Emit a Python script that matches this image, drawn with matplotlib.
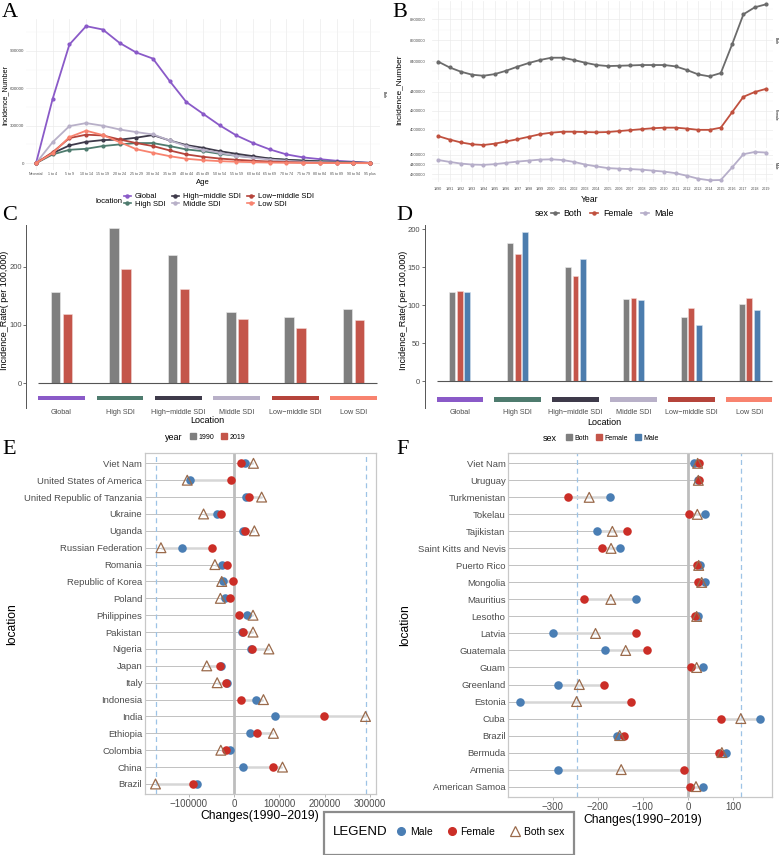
import numpy as np
import matplotlib
matplotlib.use("Agg")
import matplotlib.pyplot as plt
from matplotlib.lines import Line2D
from matplotlib.patches import Patch, Rectangle

plt.rcParams['font.family'] = ['Liberation Sans', 'DejaVu Sans']

W, H = 780, 855


def box(l, t, r, b):
    # pixel box -> figure fraction
    return [l / W, 1 - b / H, (r - l) / W, (b - t) / H]


def fx(x):
    return x / W


def fy(y):
    return 1 - y / H


# ---------------- data ----------------
locations = ["Global", "High SDI", "High-middle SDI", "Middle SDI", "Low-middle SDI", "Low SDI"]
loc_labels = ["Global", "High SDI", "High\u2212middle SDI", "Middle SDI", "Low\u2212middle SDI", "Low SDI"]
loc_colors = ["#8A5AC8", "#4E7B6E", "#3E3A4A", "#B8B0C8", "#B5443B", "#F8836F"]

ages = ["Neonatal", "1 to 4", "5 to 9", "10 to 14", "15 to 19", "20 to 24", "25 to 29",
        "30 to 34", "35 to 39", "40 to 44", "45 to 49", "50 to 54", "55 to 59", "60 to 64",
        "65 to 69", "70 to 74", "75 to 79", "80 to 84", "85 to 89", "90 to 94", "95 plus"]
# incidence number by age, thousands
global_age = [0, 517, 951, 1098, 1071, 964, 887, 838, 659, 490, 396, 303, 222, 161, 110, 70, 46, 32, 19, 11, 3]
high_age = [0, 70, 107, 115, 137, 150, 161, 161, 137, 110, 96, 75, 59, 46, 37, 27, 21, 16, 11, 5, 2]
highmid_age = [0, 80, 142, 171, 185, 188, 204, 225, 182, 145, 123, 96, 75, 56, 37, 27, 19, 13, 8, 5, 2]
middle_age = [0, 169, 297, 321, 300, 270, 249, 230, 182, 137, 107, 83, 59, 43, 29, 19, 11, 8, 5, 3, 1]
lowmid_age = [0, 88, 201, 228, 222, 190, 161, 137, 102, 70, 51, 37, 27, 19, 13, 8, 5, 3, 2, 1, 0]
low_age = [0, 80, 209, 260, 225, 169, 112, 83, 56, 35, 24, 16, 11, 8, 5, 3, 2, 1, 1, 0, 0]

years = list(range(1990, 2020))
# incidence number by year, thousands
both_year = [8394, 8339, 8298, 8269, 8259, 8275, 8307, 8346, 8381, 8410, 8432, 8432, 8410, 8384,
             8362, 8352, 8355, 8358, 8362, 8362, 8362, 8349, 8314, 8272, 8253, 8285, 8560, 8848,
             8915, 8944]
female_year = [3934, 3898, 3868, 3848, 3841, 3855, 3878, 3901, 3927, 3954, 3970, 3980, 3980, 3977,
               3974, 3977, 3987, 3997, 4007, 4017, 4023, 4023, 4013, 4000, 4000, 4023, 4185, 4347,
               4397, 4430]
male_year = [4444, 4425, 4408, 4398, 4395, 4402, 4415, 4428, 4438, 4448, 4451, 4444, 4425, 4398,
             4379, 4362, 4356, 4352, 4346, 4336, 4326, 4310, 4284, 4254, 4238, 4241, 4369, 4503,
             4526, 4520]
sexes = ["Both", "Female", "Male"]
sex_line_colors = ["#6B6B6B", "#C0503E", "#B6AEC9"]
facet_ticks = [[8400000, 8600000, 8800000], [4000000, 4200000, 4400000], [4300000, 4400000, 4500000]]

rate_1990 = [157, 266, 220, 123, 114, 128]
rate_2019 = [118, 197, 161, 110, 95, 109]
rate_both = [117, 182, 150, 108, 85, 101]
rate_female = [119, 168, 139, 110, 96, 109]
rate_male = [117, 197, 161, 107, 74, 94]

countries_e = ["Viet Nam", "United States of America", "United Republic of Tanzania", "Ukraine",
               "Uganda", "Russian Federation", "Romania", "Republic of Korea", "Poland",
               "Philippines", "Pakistan", "Nigeria", "Japan", "Italy", "Indonesia", "India",
               "Ethiopia", "Colombia", "China", "Brazil"]
male_e = [24.8, -97.5, 26, -37, 20, -114, -26, -23.5, -20, 28.5, 17.5, 37, -28, -15, 49, 91, 36, -9.6, 19, -81]
female_e = [15.3, -6, 34, -29, 25, -48, -15, -2, -8, 12, 21, 39, -31.5, -18, 15, 199, 50.5, -17.6, 87, -90]
both_e = [43, -103, 61, -67, 45, -161, -42, -27, -30, 42, 42, 77, -60, -37, 65, 290, 87, -29, 107, -173]

countries_f = ["Viet Nam", "Uruguay", "Turkmenistan", "Tokelau", "Tajikistan",
               "Saint Kitts and Nevis", "Puerto Rico", "Mongolia", "Mauritius", "Lesotho",
               "Latvia", "Guatemala", "Guam", "Greenland", "Estonia", "Cuba", "Brazil",
               "Bermuda", "Armenia", "American Samoa"]
male_f = [12.9, 21.7, -172, 38, -200.7, -151, 27.6, 38, -114.6, 23, -299.5, -185, 33.5, -287.6,
          -372, 159.5, -156.5, 84.3, -289, 34.3]
female_f = [25.4, 24, -267, 1.8, -134.4, -191, 19.5, 23, -230, 15, -115, -91.7, 7.7, -186,
            -127, 73.3, -141.8, 68, -9.2, 4.8]
both_f = [21.7, 23.2, -219, 21, -167.6, -170.5, 24, 30.6, -171, 19.5, -205, -138, 19.5, -241,
          -247, 117.5, -151.4, 75.5, -148, 18]

GREY_TXT = "#4D4D4D"
BAR_GREY = "#7F7F7F"
BAR_RED = "#C4554A"
BAR_BLUE = "#4C7DAE"
PT_BLUE = "#4A7EB4"
PT_RED = "#CB2E27"
TRI = "#9A6A4B"

fig = plt.figure(figsize=(W / 100, H / 100), dpi=100)

letter_kw = dict(family=["Liberation Serif", "DejaVu Serif"], fontsize=16, va="top", ha="left")
fig.text(fx(2), fy(3), "A", **letter_kw)
fig.text(fx(392), fy(3), "B", **letter_kw)
fig.text(fx(2), fy(206), "C", **letter_kw)
fig.text(fx(396), fy(206), "D", **letter_kw)
fig.text(fx(2), fy(440), "E", **letter_kw)
fig.text(fx(396), fy(440), "F", **letter_kw)

# ---------------- A ----------------
axA = fig.add_axes(box(26, 19.3, 380, 170))
age_series = [global_age, high_age, highmid_age, middle_age, lowmid_age, low_age]
xa = np.arange(len(ages))
draw_order = [1, 4, 5, 3, 2, 0]
for i in draw_order:
    axA.plot(xa, np.array(age_series[i]) * 1000, color=loc_colors[i], lw=1.3,
             marker="o", ms=2, zorder=3 + i)
axA.set_xlim(-0.6, len(ages) - 0.4)
axA.margins(y=0.05)
axA.set_xticks(xa)
axA.set_xticklabels(ages, fontsize=2.6, color=GREY_TXT)
axA.set_yticks([0, 300000, 600000, 900000])
axA.set_yticklabels(["0", "300000", "600000", "900000"], fontsize=3.2, color=GREY_TXT)
axA.set_yticks([150000, 450000, 750000, 1050000], minor=True)
axA.tick_params(length=0, pad=1.5, which="both")
axA.grid(True, color="#EBEBEB", lw=0.5)
axA.grid(True, which="minor", axis="y", color="#F3F3F3", lw=0.35)
for s in axA.spines.values():
    s.set_visible(False)
axA.set_axisbelow(True)
fig.text(fx(5), fy(95), "Incidence_Number", rotation=90, fontsize=5.1, ha="center", va="center")
fig.text(fx(203), fy(183), "Age", fontsize=5.5, ha="center", va="center")
fig.text(fx(384), fy(95), "Both", rotation=-90, fontsize=2.5, ha="center", va="center")
handlesA = [Line2D([], [], color=c, lw=1.2, marker="o", ms=2.2) for c in loc_colors]
fig.text(fx(109), fy(201), "location", fontsize=5.6, ha="center", va="center")
fig.legend(handlesA, loc_labels, ncol=3, loc="center", bbox_to_anchor=(fx(219), fy(200.5)),
           frameon=False, fontsize=5.5, handlelength=0.9, handletextpad=0.5,
           columnspacing=0.9, labelspacing=0.05, borderpad=0)

# ---------------- B ----------------
facet_boxes = [(0.7, 80), (82.2, 147.8), (149.6, 181.7)]
year_series = [both_year, female_year, male_year]
xb = np.arange(len(years))
for k in range(3):
    t, b = facet_boxes[k]
    ax = fig.add_axes(box(431.5, t, 772.8, b))
    ax.plot(xb, np.array(year_series[k]) * 1000, color=sex_line_colors[k], lw=1.3,
            marker="o", ms=2)
    ax.set_xlim(-0.6, len(years) - 0.4)
    ax.margins(y=0.05)
    ticks = facet_ticks[k]
    ax.set_yticks(ticks)
    ax.set_yticklabels([str(v) for v in ticks], fontsize=3, color=GREY_TXT)
    step = ticks[1] - ticks[0]
    ax.set_yticks([ticks[0] - step / 2] + [v + step / 2 for v in ticks], minor=True)
    ax.set_xticks(xb)
    if k == 2:
        ax.set_xticklabels([str(y) for y in years], fontsize=2.7, color=GREY_TXT)
    else:
        ax.set_xticklabels([])
    ax.tick_params(length=0, pad=4, which="both")
    ax.tick_params(axis="x", pad=4)
    ax.grid(True, color="#EBEBEB", lw=0.5)
    ax.grid(True, which="minor", axis="y", color="#F3F3F3", lw=0.35)
    ax.set_axisbelow(True)
    for s in ax.spines.values():
        s.set_visible(False)
    fig.text(fx(776), fy((t + b) / 2), sexes[k], rotation=-90, fontsize=2.5,
             ha="center", va="center")
fig.text(fx(399), fy(90), "Incidence_Number", rotation=90, fontsize=6, ha="center", va="center")
fig.text(fx(590), fy(199), "Year", fontsize=6.2, ha="center", va="center")
handlesB = [Line2D([], [], color=c, lw=1.2, marker="o", ms=2.2) for c in sex_line_colors]
fig.text(fx(542), fy(214), "sex", fontsize=6.4, ha="center", va="center")
fig.legend(handlesB, sexes, ncol=3, loc="center", bbox_to_anchor=(fx(612), fy(214)),
           frameon=False, fontsize=6.4, handlelength=0.9, handletextpad=0.5,
           columnspacing=1.0, borderpad=0)


# ---------------- C and D ----------------
def style_bar_axes(ax, yticks):
    ax.set_xticks(np.arange(len(locations)))
    ax.set_xticklabels(loc_labels, fontsize=5.2, color=GREY_TXT)
    ax.set_yticks(yticks)
    ax.set_yticklabels([str(v) for v in yticks], fontsize=5.5, color=GREY_TXT)
    ax.tick_params(axis="x", length=0, pad=1)
    ax.tick_params(axis="y", length=2, width=0.6, color="#555555", pad=1.5)
    for s in ["top", "right", "bottom"]:
        ax.spines[s].set_visible(False)
    ax.spines["left"].set_color("#555555")
    ax.spines["left"].set_linewidth(0.7)
    ax.set_xlim(-0.6, len(locations) - 0.4)
    ax.hlines(0, -0.4, len(locations) - 0.6, color="#555555", lw=0.8, zorder=4)


xc = np.arange(len(locations))
axC = fig.add_axes(box(26.5, 225, 388.7, 408))
axC.bar(xc - 0.103, rate_1990, width=0.165, color=BAR_GREY, edgecolor="#EDEDED", lw=0.4, zorder=3)
axC.bar(xc + 0.103, rate_2019, width=0.165, color=BAR_RED, edgecolor="#F2D9D6", lw=0.4, zorder=3)
axC.bar(xc, -8, bottom=-22, width=0.8, color=loc_colors, zorder=3)
style_bar_axes(axC, [0, 100, 200])
axC.set_ylim(-43, 272)
fig.text(fx(5), fy(310), "Incidence_Rate( per 100,000)", rotation=90, fontsize=6.5,
         ha="center", va="center")
fig.text(fx(207.6), fy(420), "Location", fontsize=6.5, ha="center", va="center")
fig.text(fx(174), fy(437), "year", fontsize=6.5, ha="center", va="center")
fig.legend([Patch(color=BAR_GREY), Patch(color=BAR_RED)], ["1990", "2019"], ncol=2, loc="center",
           bbox_to_anchor=(fx(218), fy(437)), frameon=False, fontsize=5, handlelength=0.8,
           handleheight=0.8, handletextpad=0.4, columnspacing=1.0, borderpad=0)

axD = fig.add_axes(box(425, 225, 780, 408))
axD.bar(xc - 0.131, rate_both, width=0.1, color=BAR_GREY, edgecolor="#EDEDED", lw=0.4, zorder=3)
axD.bar(xc, rate_female, width=0.1, color=BAR_RED, edgecolor="#F2D9D6", lw=0.4, zorder=3)
axD.bar(xc + 0.131, rate_male, width=0.1, color=BAR_BLUE, edgecolor="#D5E1EE", lw=0.4, zorder=3)
axD.bar(xc, -7, bottom=-21, width=0.8, color=loc_colors, zorder=3)
style_bar_axes(axD, [0, 50, 100, 150, 200])
axD.set_xlim(-0.6, 5.53)
axD.set_ylim(-35.6, 205.8)
fig.text(fx(403.5), fy(310), "Incidence_Rate( per 100,000)", rotation=90, fontsize=6.5,
         ha="center", va="center")
fig.text(fx(604), fy(422), "Location", fontsize=6.5, ha="center", va="center")
fig.text(fx(550), fy(438), "sex", fontsize=6.5, ha="center", va="center")
fig.legend([Patch(color=BAR_GREY), Patch(color=BAR_RED), Patch(color=BAR_BLUE)], sexes, ncol=3,
           loc="center", bbox_to_anchor=(fx(612.5), fy(438)), frameon=False, fontsize=5,
           handlelength=0.8, handleheight=0.8, handletextpad=0.4, columnspacing=1.0, borderpad=0)


# ---------------- E and F ----------------
def lollipop(ax, names, male, female, both, scale, ticks, ticklabels):
    male = np.array(male) * scale
    female = np.array(female) * scale
    both = np.array(both) * scale
    y = np.arange(len(names))
    lo = np.minimum(np.minimum(male, female), both)
    hi = np.maximum(np.maximum(male, female), both)
    ax.hlines(y, lo, hi, color="#D6D6D6", lw=1.8, zorder=1)
    ax.scatter(male, y, s=38, color=PT_BLUE, lw=0, zorder=3)
    ax.scatter(female, y, s=38, color=PT_RED, lw=0, zorder=4)
    ax.scatter(both, y, s=50, marker="^", facecolor="none", edgecolor=TRI, lw=0.9, zorder=5)
    ax.margins(x=0.05)
    xl = ax.get_xlim()
    ax.hlines(y, xl[0], hi, color="#A8A8A8", lw=0.5, zorder=0.5)
    ax.axvline(0, color="#BDBDBD", lw=2, zorder=0.8)
    ax.axvline(both.min(), color="#9DC3E6", lw=0.9, ls=(0, (4, 3)), zorder=0.7)
    ax.axvline(both.max(), color="#9DC3E6", lw=0.9, ls=(0, (4, 3)), zorder=0.7)
    ax.set_xlim(xl)
    ax.set_ylim(len(names) - 0.4, -0.6)
    ax.set_yticks(y)
    ax.set_yticklabels(names, fontsize=6.8, color=GREY_TXT)
    ax.set_xticks(ticks)
    ax.set_xticklabels(ticklabels, fontsize=7, color=GREY_TXT)
    ax.tick_params(axis="y", length=0, pad=2)
    ax.tick_params(axis="x", length=2, width=0.6, color="#AAAAAA", pad=1.5)
    for s in ax.spines.values():
        s.set_color("#C8C8C8")
        s.set_linewidth(0.9)


axE = fig.add_axes(box(145, 453.2, 376, 794.1))
lollipop(axE, countries_e, male_e, female_e, both_e, 1000,
         [-100000, 0, 100000, 200000, 300000],
         ["\u2212100000", "0", "100000", "200000", "300000"])
fig.text(fx(12), fy(624), "location", rotation=90, fontsize=8.7, ha="center", va="center")
fig.text(fx(260), fy(816), "Changes(1990\u22122019)", fontsize=8.7, ha="center", va="center")

axF = fig.add_axes(box(508.3, 453.1, 771.7, 796.8))
lollipop(axF, countries_f, male_f, female_f, both_f, 1,
         [-300, -200, -100, 0, 100], ["\u2212300", "\u2212200", "\u2212100", "0", "100"])
fig.text(fx(405), fy(625), "location", rotation=90, fontsize=8.7, ha="center", va="center")
fig.text(fx(643), fy(820), "Changes(1990\u22122019)", fontsize=8.7, ha="center", va="center")

# legend box at the bottom
fig.patches.append(Rectangle((fx(323.5), fy(855)), (574 - 323.5) / W, (855 - 812) / H,
                             transform=fig.transFigure, facecolor="white",
                             edgecolor="#8C8C8C", lw=1.6, zorder=10))
fig.text(fx(333), fy(832), "LEGEND", fontsize=9.5, ha="left", va="center", zorder=11)
handlesL = [Line2D([], [], ls="", marker="o", ms=5.5, color=PT_BLUE),
            Line2D([], [], ls="", marker="o", ms=5.5, color=PT_RED),
            Line2D([], [], ls="", marker="^", ms=6.5, mfc="none", mec=TRI, mew=0.9)]
legL = fig.legend(handlesL, ["Male", "Female", "Both sex"], ncol=3, loc="center",
                  bbox_to_anchor=(fx(480), fy(832)), frameon=False, fontsize=7.5,
                  handlelength=1, handletextpad=0.3, columnspacing=1.4, borderpad=0)
legL.set_zorder(12)

fig.savefig("out.png", dpi=100)
